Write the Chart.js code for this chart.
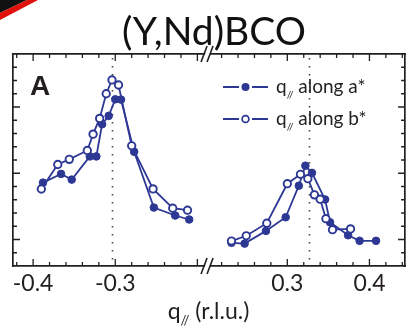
<!DOCTYPE html>
<html>
<head>
<meta charset="utf-8">
<script src="https://cdn.jsdelivr.net/npm/chart.js@4.4.1/dist/chart.umd.min.js"></script>
<style>
  html, body { margin: 0; padding: 0; background: #fff; }
</style>
</head>
<body>
<canvas id="chart" width="411" height="330"></canvas>
<script>
// q_// scans (r.l.u.) and scattered intensity (arb. units), both sides of q = 0
const qA   = [-0.388, -0.366, -0.353, -0.331, -0.323, -0.316, -0.308, -0.300, -0.293, -0.277, -0.253, -0.227, -0.210,
               0.232,  0.248,  0.274,  0.298,  0.314,  0.322,  0.330,  0.346,  0.352,  0.374,  0.388,  0.408];
const intA = [ 6.29,  6.95,  6.52,  8.27,  8.27, 10.70, 11.33, 12.58, 12.56,  8.62,  4.41,  3.81,  3.51,
               1.75,  1.69,  2.65,  3.68,  6.06,  7.57,  7.03,  5.02,  3.30,  2.32,  1.90,  1.90];
const qB   = [-0.390, -0.370, -0.356, -0.334, -0.327, -0.319, -0.311, -0.304, -0.296, -0.280, -0.254, -0.230, -0.212,
               0.232,  0.250,  0.275,  0.300,  0.316,  0.325,  0.333,  0.340,  0.347,  0.355,  0.377];
const intB = [ 5.81,  7.66,  8.05,  8.72,  9.95, 11.14, 13.00, 14.04, 13.66,  9.07,  5.82,  4.36,  4.21,
               1.88,  2.28,  3.23,  6.21,  6.92,  6.59,  5.37,  5.04,  3.57,  2.74,  2.80];
// charge-order wave vectors marked by dotted lines
const cdwQ = [-0.304, 0.326];
// labelled ticks on the q axis
const tickLabelsQ = [-0.4, -0.3, 0.3, 0.4];
const seriesNames = ['along a*', 'along b*'];
const titleText = '(Y,Nd)BCO';

const BLUE = '#2d3894';
const INK = '#231f20';

// the q axis is broken between BREAK_LO and BREAK_HI
const BREAK_LO = -0.187;
const BREAK_HI = 0.2035;
const GAP = BREAK_HI - BREAK_LO;
const Q_MIN = -0.4245, Q_MAX = 0.4434;
const toAxis = q => (q < 0 ? q : q - GAP);
const fromAxis = u => (u <= BREAK_LO + 1e-9 ? u : u + GAP);

// minor ticks every 0.02 on each side of the break
const qTicks = [];
for (let k = -21; k <= 22; k++) {
  const q = Math.round(k * 2) / 100;
  if (q < Q_MIN || q > Q_MAX) continue;
  if (q > BREAK_LO && q < BREAK_HI) continue;
  qTicks.push(q);
}
const isMajorQ = q => Math.abs(q * 10 - Math.round(q * 10)) < 1e-6;

function points(qs, vals, keep) {
  const out = [];
  qs.forEach((q, i) => { if (keep(q)) out.push({ x: toAxis(q), y: vals[i] }); });
  return out;
}

const openStyle = {
  borderColor: BLUE, backgroundColor: '#fff', borderWidth: 1.8,
  pointRadius: 3.7, pointBorderWidth: 1.9, pointBackgroundColor: '#fff', pointBorderColor: BLUE,
  tension: 0
};
const filledStyle = {
  borderColor: BLUE, backgroundColor: BLUE, borderWidth: 1.8,
  pointRadius: 3.8, pointBorderWidth: 1, pointBackgroundColor: BLUE, pointBorderColor: BLUE,
  tension: 0
};

// dataset 0 is painted last, so the open circles sit on top
const datasets = [
  Object.assign({ label: seriesNames[1], data: points(qB, intB, q => q < 0) }, openStyle),
  Object.assign({ label: seriesNames[1], data: points(qB, intB, q => q > 0) }, openStyle),
  Object.assign({ label: seriesNames[0], data: points(qA, intA, q => q < 0) }, filledStyle),
  Object.assign({ label: seriesNames[0], data: points(qA, intA, q => q > 0) }, filledStyle)
];

// corner stripes, title, dotted markers, inward ticks, axis break, legend and labels
const decorations = {
  id: 'decorations',
  beforeDraw(chart) {
    const ctx = chart.ctx;
    ctx.save();
    ctx.fillStyle = '#111';
    ctx.beginPath(); ctx.moveTo(0, 0); ctx.lineTo(27, 0); ctx.lineTo(0, 13); ctx.closePath(); ctx.fill();
    ctx.fillStyle = '#e0100a';
    ctx.beginPath(); ctx.moveTo(27, 0); ctx.lineTo(38, 0); ctx.lineTo(0, 20); ctx.lineTo(0, 13); ctx.closePath(); ctx.fill();

    ctx.fillStyle = '#111';
    ctx.font = '39px Lato, sans-serif';
    ctx.textAlign = 'center';
    ctx.textBaseline = 'alphabetic';
    ctx.fillText(titleText, 214, 45);
    ctx.restore();
  },
  beforeDatasetsDraw(chart) {
    const { ctx, chartArea: a, scales: { x } } = chart;
    ctx.save();
    ctx.strokeStyle = '#444';
    ctx.lineWidth = 1.6;
    ctx.setLineDash([1.4, 6.6]);
    cdwQ.forEach(q => {
      const px = Math.round(x.getPixelForValue(toAxis(q))) + 0.5;
      ctx.beginPath(); ctx.moveTo(px, a.top + 4); ctx.lineTo(px, a.bottom - 2); ctx.stroke();
    });
    ctx.restore();
  },
  afterDraw(chart) {
    const { ctx, chartArea: a, scales: { x, y } } = chart;
    ctx.save();
    ctx.strokeStyle = INK;
    ctx.lineWidth = 1.3;
    // q ticks, top and bottom
    qTicks.forEach(q => {
      const px = x.getPixelForValue(toAxis(q));
      const len = isMajorQ(q) ? 7 : 4;
      ctx.beginPath();
      ctx.moveTo(px, a.bottom); ctx.lineTo(px, a.bottom - len);
      ctx.moveTo(px, a.top); ctx.lineTo(px, a.top + len);
      ctx.stroke();
    });
    // intensity ticks, left and right
    y.ticks.forEach(t => {
      if (t.value <= y.min || t.value >= y.max) return;
      const py = y.getPixelForValue(t.value);
      const len = (t.value - 2) % 5 === 0 ? 7 : 4;
      ctx.beginPath();
      ctx.moveTo(a.left, py); ctx.lineTo(a.left + len, py);
      ctx.moveTo(a.right, py); ctx.lineTo(a.right - len, py);
      ctx.stroke();
    });
    // axis break marks
    const bx = x.getPixelForValue(BREAK_LO);
    [a.top, a.bottom].forEach(by => {
      ctx.fillStyle = '#fff';
      ctx.beginPath();
      ctx.moveTo(bx - 6, by + 8); ctx.lineTo(bx + 0, by - 8);
      ctx.lineTo(bx + 5, by - 8); ctx.lineTo(bx - 1, by + 8);
      ctx.closePath(); ctx.fill();
      ctx.lineWidth = 1.6;
      ctx.beginPath();
      ctx.moveTo(bx - 7, by + 8); ctx.lineTo(bx - 1, by - 8);
      ctx.moveTo(bx - 1, by + 8); ctx.lineTo(bx + 5, by - 8);
      ctx.stroke();
    });

    // panel letter
    ctx.fillStyle = INK;
    ctx.font = 'bold 28px "Liberation Sans", Arial, sans-serif';
    ctx.textBaseline = 'alphabetic';
    ctx.textAlign = 'left';
    ctx.fillText('A', a.left + 17, a.top + 41);

    // q_// with a small subscript
    const drawQ = (x0, base, size, tail) => {
      ctx.font = size + 'px Lato, sans-serif';
      ctx.fillText('q', x0, base);
      let cx = x0 + ctx.measureText('q').width;
      ctx.font = Math.round(size * 0.55) + 'px Lato, sans-serif';
      ctx.fillText('//', cx, base + size * 0.28);
      cx += ctx.measureText('//').width;
      ctx.font = size + 'px Lato, sans-serif';
      ctx.fillText(tail, cx, base);
      return cx + ctx.measureText(tail).width - x0;
    };
    const measureQ = (size, tail) => {
      ctx.font = size + 'px Lato, sans-serif';
      let w = ctx.measureText('q').width + ctx.measureText(tail).width;
      ctx.font = Math.round(size * 0.55) + 'px Lato, sans-serif';
      return w + ctx.measureText('//').width;
    };

    // legend
    const lx = a.left + 210, rows = [a.top + 33, a.top + 65];
    rows.forEach((ry, i) => {
      ctx.strokeStyle = BLUE;
      ctx.lineWidth = 1.8;
      ctx.beginPath();
      ctx.moveTo(lx, ry); ctx.lineTo(lx + 16, ry);
      ctx.moveTo(lx + 29, ry); ctx.lineTo(lx + 45, ry);
      ctx.stroke();
      ctx.beginPath();
      ctx.arc(lx + 22.5, ry, i === 0 ? 4 : 3.4, 0, Math.PI * 2);
      if (i === 0) { ctx.fillStyle = BLUE; ctx.fill(); }
      else { ctx.fillStyle = '#fff'; ctx.fill(); ctx.lineWidth = 1.7; ctx.stroke(); }
      ctx.fillStyle = INK;
      drawQ(lx + 53, ry + 6, 19, ' ' + seriesNames[i]);
    });

    // axis title
    const tail = ' (r.l.u.)';
    const w = measureQ(23, tail);
    drawQ(208.5 - w / 2, 319, 23, tail);
    ctx.restore();
  }
};

const hidden = { display: false };

new Chart(document.getElementById('chart'), {
  type: 'line',
  data: { datasets },
  plugins: [decorations],
  options: {
    responsive: false,
    devicePixelRatio: 1,
    animation: false,
    layout: { padding: { top: 54 } },
    plugins: {
      legend: hidden,
      tooltip: { enabled: false },
      title: hidden
    },
    scales: {
      x: {
        type: 'linear',
        position: 'bottom',
        min: toAxis(Q_MIN),
        max: toAxis(Q_MAX),
        afterBuildTicks: s => { s.ticks = qTicks.map(q => ({ value: toAxis(q) })); },
        afterFit: s => { s.height = 64; },
        grid: { display: false, drawTicks: false },
        border: { display: true, color: INK, width: 1.7 },
        ticks: {
          autoSkip: false,
          maxRotation: 0,
          padding: 4,
          color: INK,
          font: { family: 'Lato', size: 23, lineHeight: 1.2 },
          callback: v => {
            const q = fromAxis(v);
            const hit = tickLabelsQ.find(t => Math.abs(t - q) < 1e-6);
            return hit === undefined ? '' : hit.toFixed(1);
          }
        }
      },
      x2: {
        type: 'linear',
        position: 'top',
        min: toAxis(Q_MIN),
        max: toAxis(Q_MAX),
        afterFit: s => { s.height = 0; },
        grid: { display: false, drawTicks: false },
        border: { display: true, color: INK, width: 1.7 },
        ticks: hidden
      },
      y: {
        type: 'linear',
        position: 'left',
        min: 0,
        max: 16,
        afterFit: s => { s.width = 13; },
        grid: { display: false, drawTicks: false },
        border: { display: true, color: INK, width: 1.7 },
        ticks: { display: false, stepSize: 1 }
      },
      y2: {
        type: 'linear',
        position: 'right',
        min: 0,
        max: 16,
        afterFit: s => { s.width = 2; },
        grid: { display: false, drawTicks: false },
        border: { display: true, color: INK, width: 1.7 },
        ticks: hidden
      }
    }
  }
});
</script>
</body>
</html>
